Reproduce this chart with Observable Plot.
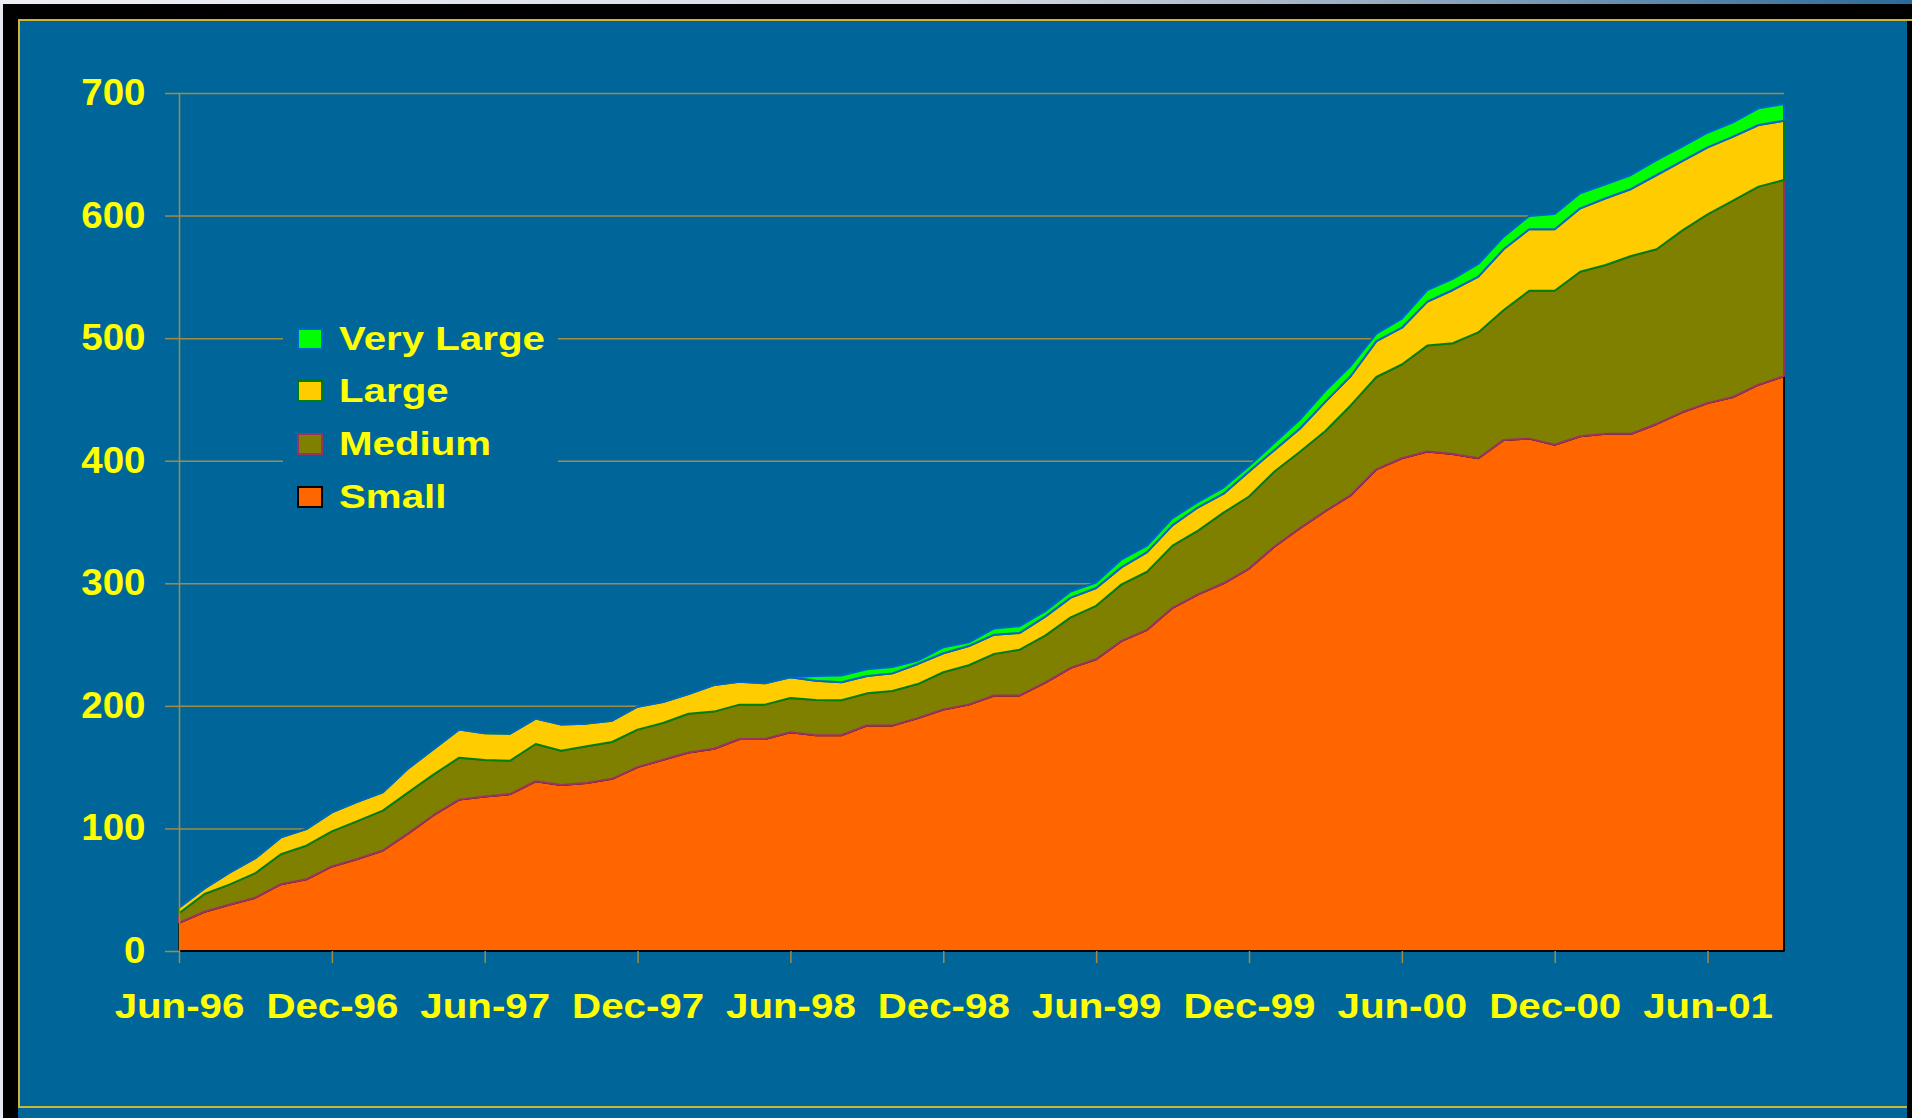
<!DOCTYPE html>
<html>
<head>
<meta charset="utf-8">
<script src="https://cdn.jsdelivr.net/npm/d3@7"></script>
<script src="https://cdn.jsdelivr.net/npm/@observablehq/plot@0.6"></script>
<style>
  html, body { margin: 0; padding: 0; width: 1912px; height: 1118px; overflow: hidden; background: #e6e9ef; }
  #topstrip { position: absolute; left: 0; top: 0; width: 1912px; height: 4px;
    background: linear-gradient(to right, #eceef3 0%, #d6dbe4 50%, #9fb0c4 70%, #2a6a9a 100%); }
  #black { position: absolute; left: 3px; top: 4px; width: 1909px; height: 1114px; background: #000; }
  #panel { position: absolute; left: 18px; top: 19px; width: 1889px; height: 1099px; background: #006699; }
  #goldtop { position: absolute; left: 18px; top: 19px; width: 1894px; height: 2px; background: #CDB53A; }
  #goldleft { position: absolute; left: 18px; top: 19px; width: 2px; height: 1089px; background: #CDB53A; }
  #goldbottom { position: absolute; left: 18px; top: 1106px; width: 1889px; height: 2px; background: #CDB53A; }
  #chart { position: absolute; left: 0; top: 0; }
  #legend { position: absolute; left: 283px; top: 314px; width: 275px; height: 212px; background: #006699; }
  .row { position: absolute; left: 0; width: 275px; height: 52px; }
  .sw { position: absolute; left: 14px; top: 14px; width: 26px; height: 22px; box-sizing: border-box; border: 2px solid; }
  .lab { position: absolute; left: 56px; top: 6px; line-height: 52px; font: bold 33px "Liberation Sans", Arial, sans-serif;
    color: #ffff00; transform: scaleX(1.22); transform-origin: 0 50%; white-space: nowrap; }
</style>
</head>
<body>
<div id="topstrip"></div>
<div id="black"></div>
<div id="panel"></div>
<div id="goldtop"></div>
<div id="goldleft"></div>
<div id="goldbottom"></div>
<div id="chart"></div>
<div id="legend"></div>
<script>
// ---- Data (monthly, Jun-96 .. Sep-01) ----
const small = [23, 32, 38, 43.5, 54.5, 58.5, 69, 75, 82, 96, 111, 123.5, 126, 128, 138.5, 135.5,
  137, 140.5, 150, 156, 162, 165, 173, 173, 178.5, 176, 176, 184, 184, 190, 197, 201,
  208.5, 208.5, 219, 231, 238, 253, 262, 280, 291, 300, 312, 330, 345, 359, 372, 393,
  402, 407.5, 405.5, 402, 417, 418, 413, 420, 422, 422, 430, 439.5, 447, 452, 462, 469];
const medium = [7.7, 14.5, 16.4, 20, 24.4, 27.4, 28.6, 31, 32.5, 33.4, 33.1, 34.2, 29.8, 27.3, 30.4, 27.9,
  30, 30, 30.6, 30, 31.6, 30.3, 28, 28, 27.9, 28.8, 28.6, 26.2, 28.1, 27.8, 30.4, 32.1,
  33.9, 37.3, 38.3, 41.2, 43.6, 46.1, 47.4, 50.7, 52, 57.6, 58.8, 61.2, 62.3, 65.3, 73.3, 75.3,
  76.5, 86.4, 90.3, 102.7, 106, 120.7, 125.7, 134.2, 137.7, 145, 142.5, 148.2, 154, 160.2, 161.6, 160];
const large = [4.7, 4.6, 9.8, 12.2, 13.8, 13.6, 15.5, 15.8, 14.9, 19.6, 20.7, 23.1, 21.8, 22, 20.7, 21.3,
  18.5, 17.4, 18.7, 17.1, 16.1, 21.7, 18.7, 17.4, 16.9, 15.7, 14.6, 14.2, 14.4, 16.4, 15.5, 15.7,
  15.7, 13.7, 15.5, 16.1, 14.6, 14.1, 16, 16.7, 19, 15.5, 20.4, 17.6, 19, 23.9, 24, 29.2,
  30, 35.9, 43.5, 45.5, 49.7, 50.1, 50.1, 51.7, 54.4, 54.7, 60.6, 56.8, 54.7, 52.2, 50.3, 48.4];
const veryLarge = [0, 0, 0, 0, 0, 0, 0, 0, 0, 0, 0, 0, 0, 0, 0, 0,
  0, 0, 0, 0, 0, 0, 0, 0, 0, 3.9, 5.5, 5.4, 5.2, 2.7, 4.8, 3,
  5.1, 5.5, 4.4, 5, 4.4, 6.4, 5.3, 5.8, 4.4, 5, 4.4, 5.8, 7.3, 8.8, 8.2, 6.1,
  7.5, 9.5, 9, 10.3, 10.1, 10.9, 12.5, 12.3, 11.4, 11.4, 12.2, 11.7, 11.9, 11.7, 13.6, 13.6];

const seriesNames = ["Small", "Medium", "Large", "Very Large"];
const fillColors = ["#FF6600", "#808000", "#FFCC00", "#00FF00"];
const borderColors = ["#000000", "#993366", "#008000", "#0066CC"];
const tickIndex = [0, 6, 12, 18, 24, 30, 36, 42, 48, 54, 60];
const tickLabels = ["Jun-96", "Dec-96", "Jun-97", "Dec-97", "Jun-98", "Dec-98", "Jun-99", "Dec-99", "Jun-00", "Dec-00", "Jun-01"];
const yTicks = [0, 100, 200, 300, 400, 500, 600, 700];

// long table for the stack
const rows = [];
[small, medium, large, veryLarge].forEach((arr, k) =>
  arr.forEach((v, i) => rows.push({i, value: v, series: seriesNames[k]})));

const gold = "#A08C46";
const font = "'Liberation Sans', Arial, Helvetica, sans-serif";

const chart = Plot.plot({
  width: 1912,
  height: 1118,
  marginLeft: 179,
  marginRight: 128,
  marginTop: 93,
  marginBottom: 167,
  x: {domain: [0, small.length - 1], axis: null},
  y: {domain: [0, 700], axis: null},
  color: {type: "identity"},
  style: {background: "transparent", fontFamily: font, overflow: "visible"},
  marks: [
    Plot.gridY(yTicks.filter(d => d > 0), {stroke: gold, strokeOpacity: 1, strokeWidth: 1.5}),
    Plot.areaY(rows, Plot.stackY({
      x: "i", y: "value", z: "series", order: seriesNames,
      fill: d => fillColors[seriesNames.indexOf(d.series)],
      stroke: d => borderColors[seriesNames.indexOf(d.series)],
      strokeWidth: 2, strokeLinejoin: "miter"
    })),
    Plot.ruleX([0], {stroke: gold, strokeWidth: 1.5}),
    Plot.axisY({
      ticks: yTicks, tickSize: 14, tickPadding: 20, tickFormat: d => String(d), label: null,
      stroke: gold, strokeWidth: 1.5, fill: "#FFFF00", fontSize: 36, fontWeight: "bold", fontFamily: font
    }),
    Plot.axisX({
      ticks: tickIndex, tickSize: 12, tickPadding: 30, label: null,
      tickFormat: d => tickLabels[tickIndex.indexOf(d)],
      stroke: gold, strokeWidth: 1.5, fill: "#FFFF00", fontSize: 35, fontWeight: "bold", fontFamily: font
    })
  ]
});

// widen the glyphs horizontally like the stretched slide
function widen(sel, k) {
  chart.querySelectorAll(sel).forEach(t => {
    const tr = t.getAttribute("transform") || "";
    const x = +t.getAttribute("x") || 0;
    t.setAttribute("transform", `${tr} translate(${x},0) scale(${k},1) translate(${-x},0)`);
  });
}
widen('g[aria-label="y-axis tick label"] text', 1.07);
widen('g[aria-label="x-axis tick label"] text', 1.15);

document.getElementById("chart").appendChild(chart);

// legend (top entry first)
const legend = document.getElementById("legend");
const legendTops = [-0.5, 52, 105, 157.5];
[3, 2, 1, 0].forEach((k, r) => {
  const row = document.createElement("div");
  row.className = "row";
  row.style.top = legendTops[r] + "px";
  const sw = document.createElement("div");
  sw.className = "sw";
  sw.style.background = fillColors[k];
  sw.style.borderColor = borderColors[k];
  const lab = document.createElement("div");
  lab.className = "lab";
  lab.textContent = seriesNames[k];
  row.appendChild(sw);
  row.appendChild(lab);
  legend.appendChild(row);
});
</script>
</body>
</html>
